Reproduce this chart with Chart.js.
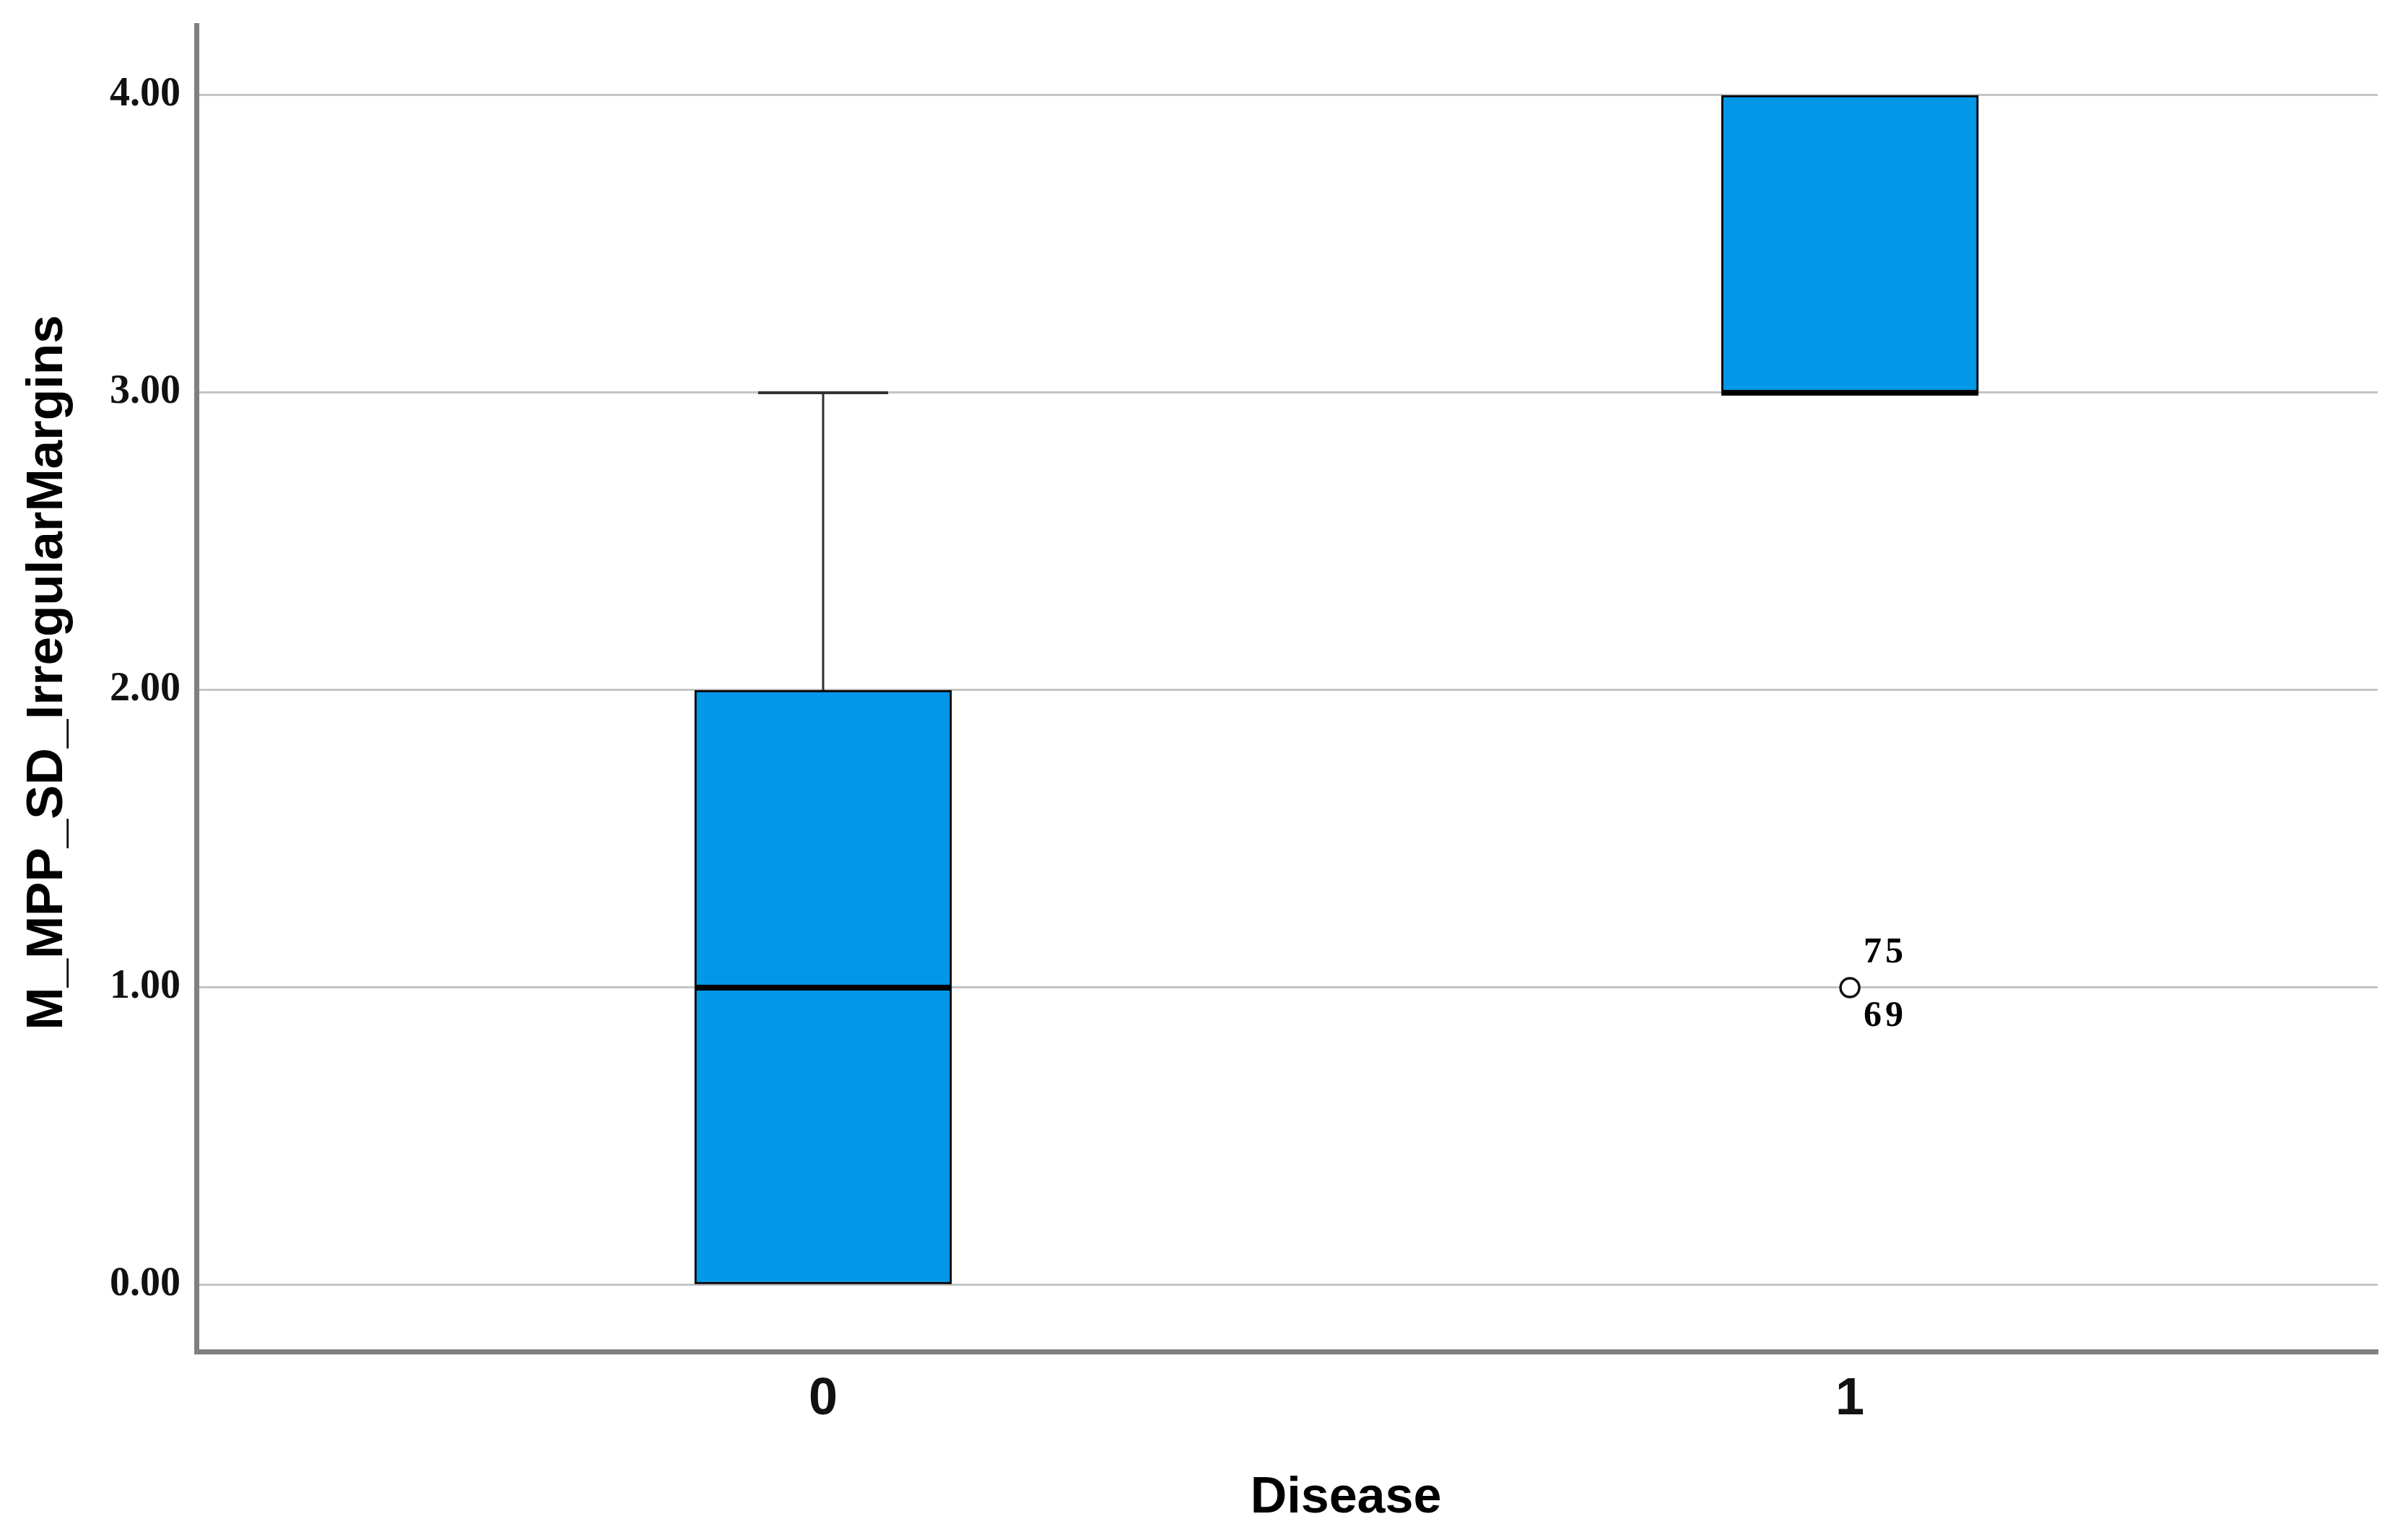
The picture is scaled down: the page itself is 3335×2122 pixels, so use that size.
<!DOCTYPE html>
<html>
<head>
<meta charset="utf-8">
<script src="https://cdn.jsdelivr.net/npm/chart.js@4/dist/chart.umd.min.js"></script>
<style>
  html, body { margin: 0; padding: 0; background: #fff; }
  #wrap { width: 3335px; height: 2122px; position: relative; }
</style>
</head>
<body>
<div id="wrap"><canvas id="chart"></canvas></div>
<script>
// box plot values per Disease group
const groups = ["0", "1"];
const groupX = [0, 1];
const q1 = [0, 3];
const median = [1, 3];
const q3 = [2, 4];
const whiskerLow = [0, 3];
const whiskerHigh = [3, 4];

// outliers (circle) and case labels
const outlierGroup = [1];
const outlierValue = [1];
const outlierCases = [["75", "69"]];

const yTicks = [0, 1, 2, 3, 4];
const xTitle = "Disease";
const yTitle = "M_MPP_SD_IrregularMargins";

const boxBlue = "#0397e8";

const datasets = [];

datasets.push({
  type: "bar",
  data: groupX.map((x, i) => ({ x: x, y: [q1[i], q3[i]] })),
  backgroundColor: boxBlue,
  borderColor: "#000",
  borderWidth: 3,
  borderSkipped: false,
  barThickness: 356,
  order: 4,
});

groupX.forEach((x, i) => {
  if (whiskerHigh[i] > q3[i]) {
    datasets.push({
      type: "line",
      data: [{ x: x, y: q3[i] }, { x: x, y: whiskerHigh[i] }],
      borderColor: "#333",
      borderWidth: 3,
      pointRadius: 0,
      order: 5,
    });
    datasets.push({
      type: "scatter",
      data: [{ x: x, y: whiskerHigh[i] }],
      pointStyle: "line",
      radius: 90,
      borderColor: "#333",
      borderWidth: 4,
      order: 3,
    });
  }
  if (whiskerLow[i] < q1[i]) {
    datasets.push({
      type: "line",
      data: [{ x: x, y: whiskerLow[i] }, { x: x, y: q1[i] }],
      borderColor: "#333",
      borderWidth: 3,
      pointRadius: 0,
      order: 5,
    });
    datasets.push({
      type: "scatter",
      data: [{ x: x, y: whiskerLow[i] }],
      pointStyle: "line",
      radius: 90,
      borderColor: "#333",
      borderWidth: 4,
      order: 3,
    });
  }
});

datasets.push({
  type: "scatter",
  data: groupX.map((x, i) => ({ x: x, y: median[i] })),
  pointStyle: "line",
  radius: 178,
  borderColor: "#000",
  borderWidth: 8,
  order: 2,
});

const outlierIndex = datasets.length;
datasets.push({
  type: "scatter",
  data: outlierGroup.map((g, i) => ({ x: g, y: outlierValue[i] })),
  pointStyle: "circle",
  radius: 13,
  backgroundColor: "#fff",
  borderColor: "#111",
  borderWidth: 3.5,
  order: 1,
});

const textPlugin = {
  id: "texts",
  afterDraw(chart) {
    const ctx = chart.ctx;
    const area = chart.chartArea;
    const xs = chart.scales.x;
    ctx.save();
    ctx.fillStyle = "#000";

    // axis titles
    ctx.textAlign = "center";
    ctx.textBaseline = "alphabetic";
    ctx.font = "bold 70px 'Liberation Sans', Arial, sans-serif";
    ctx.fillText(xTitle, xs.getPixelForValue(0.5) + 13, area.bottom + 223);

    ctx.save();
    ctx.font = "bold 71px 'Liberation Sans', Arial, sans-serif";
    ctx.translate(86, (area.top + area.bottom) / 2 - 22);
    ctx.rotate(-Math.PI / 2);
    ctx.fillText(yTitle, 0, 0);
    ctx.restore();

    // outlier case numbers
    const meta = chart.getDatasetMeta(outlierIndex);
    ctx.font = "bold 50px 'Liberation Serif', 'Times New Roman', serif";
    ctx.letterSpacing = "5px";
    ctx.textAlign = "left";
    ctx.textBaseline = "middle";
    meta.data.forEach((pt, i) => {
      const cases = outlierCases[i];
      ctx.fillText(cases[0], pt.x + 19, pt.y - 48);
      ctx.fillText(cases[1], pt.x + 19, pt.y + 40);
    });
    ctx.restore();
  },
};

new Chart(document.getElementById("chart"), {
  type: "bar",
  data: { datasets: datasets },
  options: {
    responsive: true,
    maintainAspectRatio: false,
    animation: false,
    layout: { autoPadding: false, padding: { top: 35, right: 42, left: 0, bottom: 0 } },
    plugins: {
      legend: { display: false },
      tooltip: { enabled: false },
    },
    scales: {
      x: {
        type: "linear",
        min: -0.6104,
        max: 1.514,
        offset: false,
        grid: { display: false, drawTicks: false, offset: false },
        border: { display: true, color: "#808080", width: 7 },
        afterBuildTicks: (scale) => {
          scale.ticks = groupX.map((v) => ({ value: v }));
        },
        afterFit: (scale) => {
          scale.height = 250;
          scale.paddingLeft = 0;
          scale.paddingRight = 0;
        },
        ticks: {
          padding: 24,
          color: "#111",
          font: { family: "'Liberation Sans', Arial, sans-serif", size: 72, weight: "bold" },
          callback: (v) => groups[groupX.indexOf(v)],
        },
      },
      y: {
        type: "linear",
        min: -0.2233,
        max: 4.2354,
        grid: { color: "#c4c4c4", lineWidth: 3, drawTicks: false },
        border: { display: true, color: "#808080", width: 7 },
        afterBuildTicks: (scale) => {
          scale.ticks = yTicks.map((v) => ({ value: v }));
        },
        afterFit: (scale) => {
          scale.width = 272;
          scale.paddingTop = 0;
          scale.paddingBottom = 0;
        },
        ticks: {
          padding: 22,
          color: "#111",
          font: { family: "'Liberation Serif', 'Times New Roman', serif", size: 56, weight: "bold" },
          callback: (v) => Number(v).toFixed(2),
        },
      },
    },
  },
  plugins: [textPlugin],
});
</script>
</body>
</html>
